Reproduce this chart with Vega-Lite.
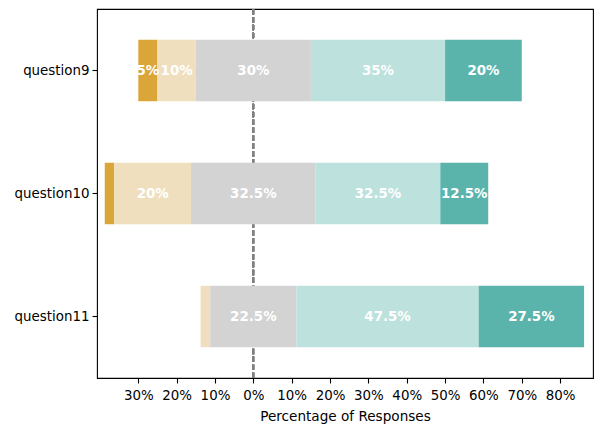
{
  "$schema": "https://vega.github.io/schema/vega-lite/v6.json",
  "width": 496,
  "height": 369,
  "autosize": {"type": "none"},
  "padding": {"left": 97, "top": 9, "right": 10, "bottom": 54},
  "background": "white",
  "config": {
    "view": {"stroke": "black", "strokeWidth": 1.1},
    "font": "DejaVu Sans"
  },
  "data": {
    "values": [
      {"question": "question9", "response": "Strongly disagree", "pct": 5, "label": "5%", "start": -30, "end": -25},
      {"question": "question9", "response": "Disagree", "pct": 10, "label": "10%", "start": -25, "end": -15},
      {"question": "question9", "response": "Neutral", "pct": 30, "label": "30%", "start": -15, "end": 15},
      {"question": "question9", "response": "Agree", "pct": 35, "label": "35%", "start": 15, "end": 50},
      {"question": "question9", "response": "Strongly agree", "pct": 20, "label": "20%", "start": 50, "end": 70},
      {"question": "question10", "response": "Strongly disagree", "pct": 2.5, "label": "", "start": -38.75, "end": -36.25},
      {"question": "question10", "response": "Disagree", "pct": 20, "label": "20%", "start": -36.25, "end": -16.25},
      {"question": "question10", "response": "Neutral", "pct": 32.5, "label": "32.5%", "start": -16.25, "end": 16.25},
      {"question": "question10", "response": "Agree", "pct": 32.5, "label": "32.5%", "start": 16.25, "end": 48.75},
      {"question": "question10", "response": "Strongly agree", "pct": 12.5, "label": "12.5%", "start": 48.75, "end": 61.25},
      {"question": "question11", "response": "Disagree", "pct": 2.5, "label": "", "start": -13.75, "end": -11.25},
      {"question": "question11", "response": "Neutral", "pct": 22.5, "label": "22.5%", "start": -11.25, "end": 11.25},
      {"question": "question11", "response": "Agree", "pct": 47.5, "label": "47.5%", "start": 11.25, "end": 58.75},
      {"question": "question11", "response": "Strongly agree", "pct": 27.5, "label": "27.5%", "start": 58.75, "end": 86.25}
    ]
  },
  "encoding": {
    "y": {
      "field": "question",
      "type": "nominal",
      "sort": ["question9", "question10", "question11"],
      "scale": {"paddingInner": 0.5, "paddingOuter": 0.25},
      "axis": {
        "title": null,
        "domain": false,
        "ticks": true,
        "tickColor": "black",
        "tickSize": 5,
        "tickWidth": 1.1,
        "labelPadding": 3,
        "labelFontSize": 13.4,
        "labelColor": "black",
        "labelFont": "DejaVu Sans"
      }
    }
  },
  "layer": [
    {
      "mark": {"type": "rule", "color": "#808080", "strokeWidth": 1.5, "strokeDash": [5.5, 2.4]},
      "encoding": {
        "x": {"datum": 0, "type": "quantitative"},
        "y": null
      }
    },
    {
      "mark": {"type": "bar"},
      "encoding": {
        "x": {
          "field": "start",
          "type": "quantitative",
          "scale": {"domain": [-40.77, 88.57], "nice": false, "zero": false},
          "axis": {
            "values": [-30, -20, -10, 0, 10, 20, 30, 40, 50, 60, 70, 80],
            "labelExpr": "abs(datum.value) + '%'",
            "title": "Percentage of Responses",
            "titleFontSize": 13.6,
            "titleFontWeight": "normal",
            "titleColor": "black",
            "titleFont": "DejaVu Sans",
            "titlePadding": 8,
            "grid": false,
            "domain": false,
            "tickColor": "black",
            "tickSize": 5,
            "tickWidth": 1.1,
            "labelPadding": 5,
            "labelFontSize": 13.4,
            "labelColor": "black",
            "labelFont": "DejaVu Sans",
            "labelFlush": false,
            "labelOverlap": false
          }
        },
        "x2": {"field": "end"},
        "color": {
          "field": "response",
          "type": "nominal",
          "scale": {
            "domain": ["Strongly disagree", "Disagree", "Neutral", "Agree", "Strongly agree"],
            "range": ["#DAA63A", "#F0DFBF", "#D3D3D3", "#BDE1DD", "#5AB4AC"]
          },
          "legend": null
        }
      }
    },
    {
      "transform": [
        {"filter": "datum.pct >= 5"},
        {"calculate": "(datum.start + datum.end) / 2", "as": "mid"}
      ],
      "mark": {"type": "text", "color": "white", "fontWeight": "bold", "fontSize": 13.4, "align": "center", "baseline": "middle", "font": "DejaVu Sans"},
      "encoding": {
        "x": {"field": "mid", "type": "quantitative"},
        "text": {"field": "label", "type": "nominal"}
      }
    }
  ]
}
